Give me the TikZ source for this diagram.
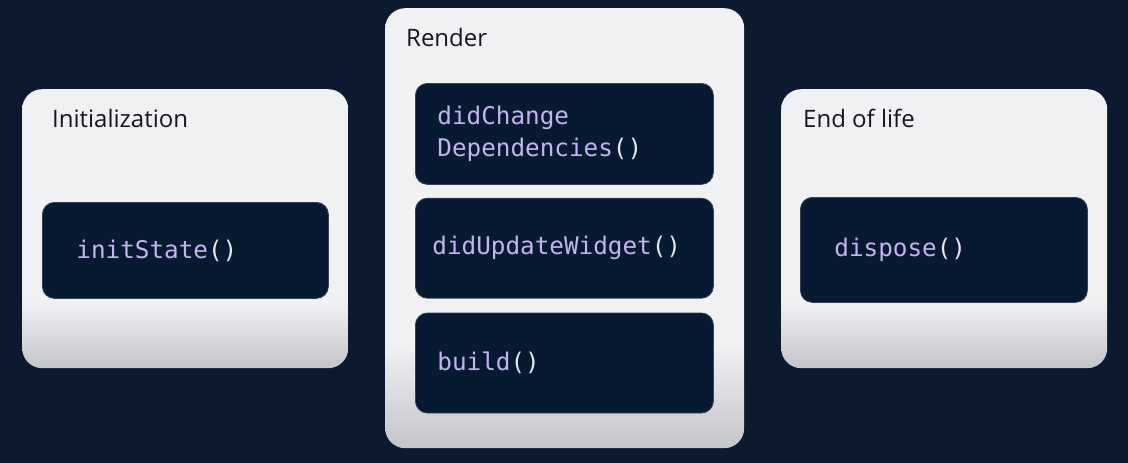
\documentclass[tikz,border=0pt]{standalone}
\usepackage{fontspec}
\setmainfont{Open Sans}
\newfontfamily\codefont{DejaVu Sans Mono}
\usepackage{xcolor}
\usepackage{tikz}
\usetikzlibrary{positioning}
\definecolor{pagebg}{HTML}{0B1A2E}
\definecolor{cardtop}{HTML}{F0F1F3}
\definecolor{cardbot}{HTML}{C4C5C9}
\definecolor{fnbg}{HTML}{071A31}
\definecolor{fnline}{HTML}{34435A}
\definecolor{fnname}{HTML}{C2B4F0}
\definecolor{parencol}{HTML}{E6E8EE}
\definecolor{titlecol}{HTML}{15171C}
% path box spans 25bp..75bp of the shading
\pgfdeclareverticalshading{cardshade}{100bp}{color(0bp)=(cardbot); color(25bp)=(cardbot); color(37bp)=(cardtop); color(100bp)=(cardtop)}
\newcommand\parens{\textcolor{parencol}{()}}

\begin{document}
\begin{tikzpicture}[x=1pt, y=-1pt,
   card/.style={shade, shading=cardshade, rounded corners=20pt, anchor=north west,
                inner sep=0pt},
   cardtitle/.style={anchor=base west, text=titlecol,
                font=\fontsize{24}{28}\selectfont, inner sep=0pt},
   fnbox/.style={fill=fnbg, draw=fnline, line width=0.8pt, rounded corners=12pt,
                align=left, text=fnname, inner ysep=0pt,
                font=\codefont\fontsize{24.3}{32}\selectfont}]

  % page
  \fill[pagebg] (0,0) rectangle (1128,463);
  \useasboundingbox (0,0) rectangle (1128,463);

  % three phases
  \node[card, minimum width=326pt, minimum height=279pt] (init) at (22,89) {};
  \node[card, minimum width=359pt, minimum height=440pt] (render) at (385,8) {};
  \node[card, minimum width=326pt, minimum height=279pt] (eol) at (781,89) {};

  \node[cardtitle] (initT) at ([xshift=30pt, yshift=-38pt]init.north west) {Initialization};
  \node[cardtitle] (renderT) at ([xshift=21pt, yshift=-38pt]render.north west) {Render};
  \node[cardtitle] (eolT) at ([xshift=22pt, yshift=-38pt]eol.north west) {End of life};

  % lifecycle methods
  \node[fnbox, anchor=north west, minimum height=96pt, text width=218pt, inner xsep=34pt]
       (initState) at ([xshift=20pt, yshift=-113pt]init.north west) {initState\parens};

  \node[fnbox, anchor=north west, minimum height=101pt, text width=254pt, inner xsep=22pt]
       (depChange) at ([xshift=30pt, yshift=-75pt]render.north west) {didChange\\Dependencies\parens};
  \node[fnbox, below=13pt of depChange, minimum height=100pt, text width=264pt, inner xsep=17pt]
       (widgetUpd) {didUpdateWidget\parens};
  \node[fnbox, below=14pt of widgetUpd, minimum height=100pt, text width=254pt, inner xsep=22pt]
       (build) {build\parens};

  \node[fnbox, anchor=north west, minimum height=105pt, text width=219pt, inner xsep=34pt]
       (dispose) at ([xshift=19pt, yshift=-108pt]eol.north west) {dispose\parens};
\end{tikzpicture}
\end{document}
